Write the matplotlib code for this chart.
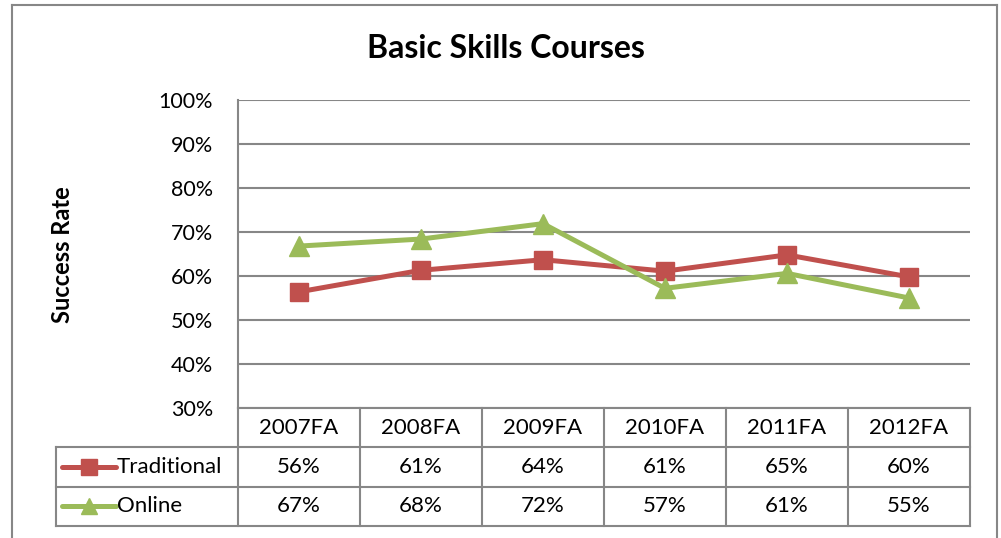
import matplotlib
matplotlib.use('Agg')
import matplotlib.pyplot as plt

# datos
categorias = ["2007FA", "2008FA", "2009FA", "2010FA", "2011FA", "2012FA"]
tradicional = [56.4, 61.3, 63.7, 61.1, 64.8, 59.8]
online = [66.8, 68.4, 71.9, 57.2, 60.6, 55.0]
series = ["Traditional", "Online"]
yticks = [30, 40, 50, 60, 70, 80, 90, 100]

rojo = '#C0504D'
verde = '#9BBB59'
gris = '#878787'

plt.rcParams['font.family'] = ['Lato', 'DejaVu Sans']

W, H = 1001, 538
fig = plt.figure(figsize=(W / 100, H / 100), dpi=100)

def caja(x0, y0, x1, y1):
    # pixeles -> coordenadas de figura
    return [x0 / W, 1 - y1 / H, (x1 - x0) / W, (y1 - y0) / H]

# marco exterior
marco = fig.add_axes(caja(12, 5, 997, 545))
marco.set_xticks([]); marco.set_yticks([])
for s in marco.spines.values():
    s.set_color(gris); s.set_linewidth(1.5)
marco.patch.set_alpha(0)

fig.text(506 / W, 1 - 48 / H, "Basic Skills Courses", ha='center', va='center',
         fontsize=23, fontweight='bold')

# grafica principal
ax = fig.add_axes(caja(238, 100, 970, 408))
x = list(range(len(categorias)))
ax.plot(x, tradicional, color=rojo, lw=3.6, marker='s', ms=13.5, mec=rojo, zorder=3)
ax.plot(x, online, color=verde, lw=3.6, marker='^', ms=14, mec=verde, zorder=3)
ax.set_xlim(-0.5, len(categorias) - 0.5)
ax.set_ylim(30, 100)
ax.set_yticks(yticks)
ax.set_yticklabels([f"{v}%" for v in yticks], fontsize=15.5)
ax.set_xticks([])
ax.tick_params(axis='y', length=0, pad=18)
ax.grid(axis='y', color=gris, lw=1.5)
ax.set_axisbelow(True)
for lado in ['top', 'right', 'bottom']:
    ax.spines[lado].set_visible(False)
ax.spines['left'].set_color(gris)
ax.spines['left'].set_linewidth(1.5)

fig.text(62 / W, 1 - 255 / H, "Success Rate", rotation=90, ha='center', va='center',
         fontsize=17, fontweight='bold')

# tabla de datos
izq = -0.5 - (238 - 56) / 122.0
tb = fig.add_axes(caja(56, 408, 970, 526))
tb.set_xlim(izq, len(categorias) - 0.5)
tb.set_ylim(3, 0)
tb.axis('off')
kw = dict(color=gris, lw=1.5, clip_on=False)
tb.plot([-0.5, len(categorias) - 0.5], [0, 0], **kw)
for fila in [1, 2, 3]:
    tb.plot([izq, len(categorias) - 0.5], [fila, fila], **kw)
tb.plot([izq, izq], [1, 3], **kw)
for i in range(len(categorias) + 1):
    tb.plot([i - 0.5, i - 0.5], [0, 3], **kw)
for i, c in enumerate(categorias):
    tb.text(i, 0.5, c, ha='center', va='center', fontsize=16)
    tb.text(i, 1.5, f"{tradicional[i]:.0f}%", ha='center', va='center', fontsize=16)
    tb.text(i, 2.5, f"{online[i]:.0f}%", ha='center', va='center', fontsize=16)

# leyenda dentro de la tabla
x0, x1 = izq + 6 / 122.0, izq + 60 / 122.0
for fila, nombre, col, mk, tam in [(1.5, series[0], rojo, 's', 12), (2.5, series[1], verde, '^', 12)]:
    tb.plot([x0, x1], [fila, fila], color=col, lw=3.6, solid_capstyle='round')
    tb.plot([(x0 + x1) / 2], [fila], marker=mk, ms=tam, color=col)
    tb.text(x1 + 1 / 122.0, fila, nombre, ha='left', va='center', fontsize=16)

fig.savefig('out.png', dpi=100)
plt.close()
